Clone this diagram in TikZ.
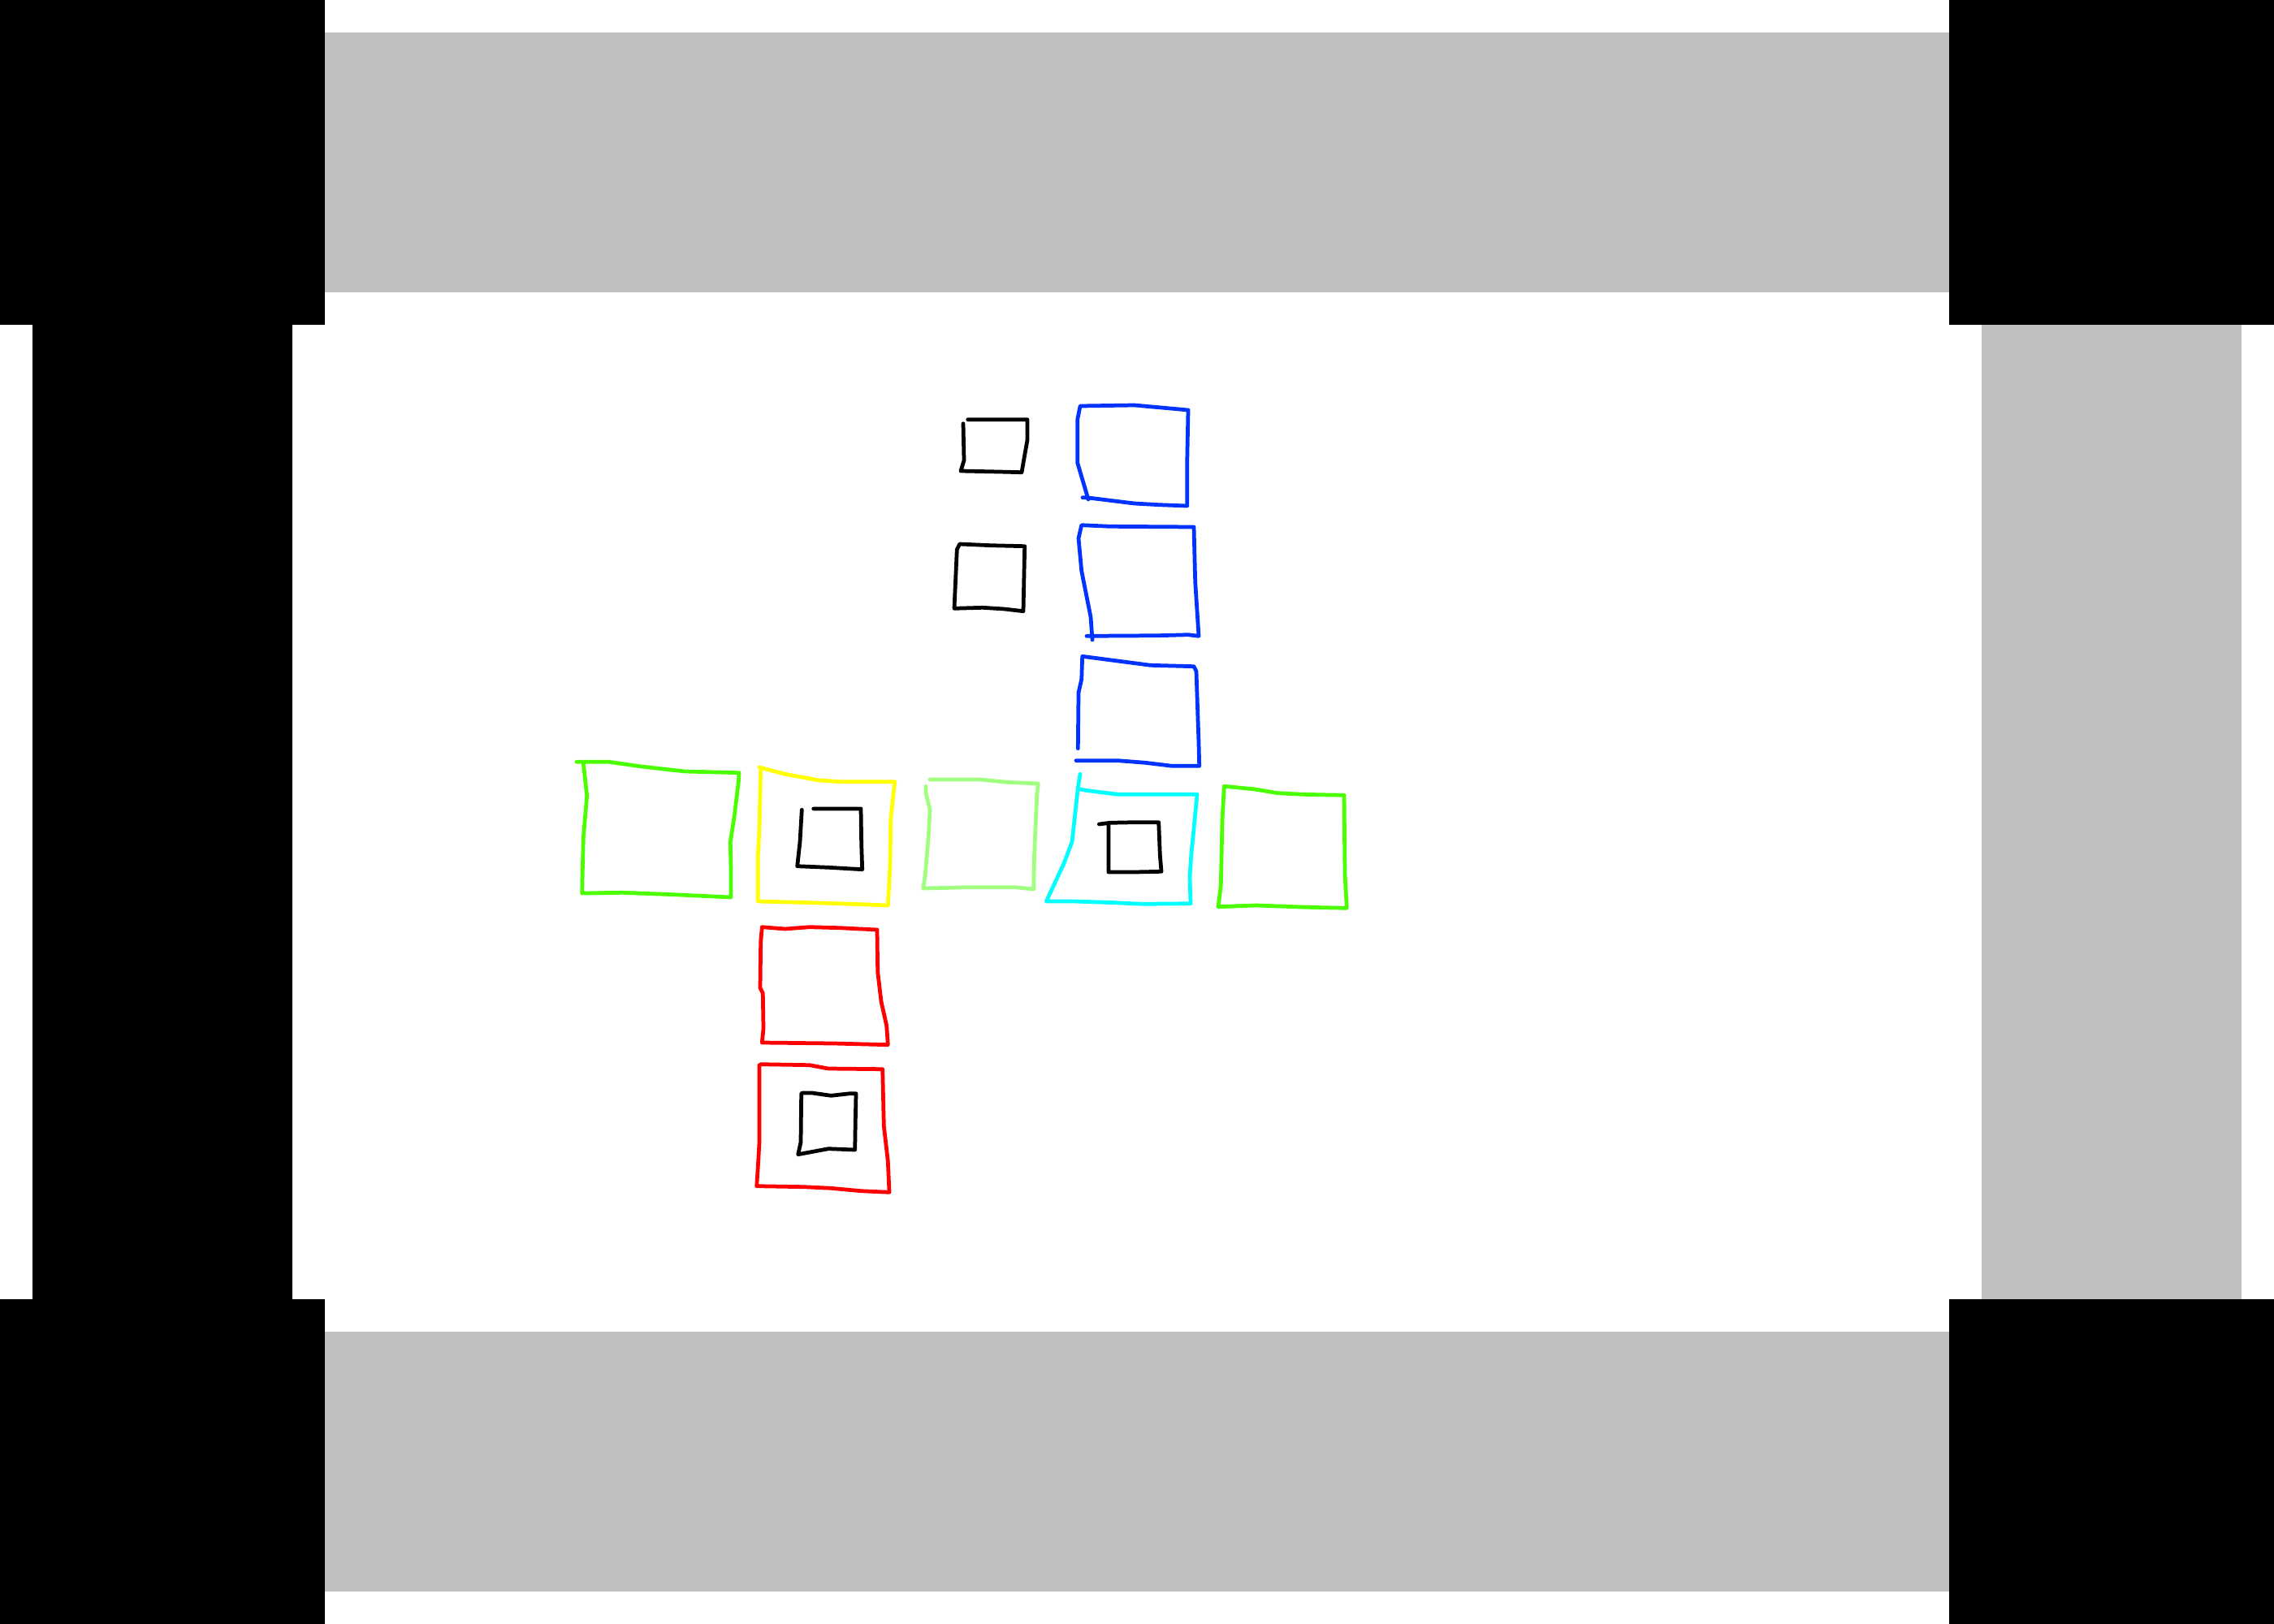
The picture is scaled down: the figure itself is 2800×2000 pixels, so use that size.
\documentclass[tikz,border=0pt]{standalone}
\begin{document}
\begin{tikzpicture}[x=0.01cm,y=-0.01cm,
  blk/.style={fill=black},
  gry/.style={fill=graybar},
  pen/.style={line width=1.35pt,line cap=round,line join=round},
  pblue/.style={pen,draw=penblue},
  pgreen/.style={pen,draw=pengreen},
  plgreen/.style={pen,draw=penlgreen},
  pyellow/.style={pen,draw=penyellow},
  pcyan/.style={pen,draw=pencyan},
  pred/.style={pen,draw=penred},
  pblack/.style={pen,draw=black}]
\definecolor{graybar}{RGB}{192,192,192}
\definecolor{penblue}{RGB}{0,51,255}
\definecolor{pengreen}{RGB}{76,255,0}
\definecolor{penlgreen}{RGB}{160,255,128}
\definecolor{penyellow}{RGB}{255,255,0}
\definecolor{pencyan}{RGB}{0,255,255}
\definecolor{penred}{RGB}{255,0,0}
\useasboundingbox (0,0) rectangle (2800,2000);
\fill[white] (0,0) rectangle (2800,2000);
% frame
\fill[blk] (0,0) rectangle (400,400);
\fill[blk] (2400,0) rectangle (2800,400);
\fill[blk] (0,1600) rectangle (400,2000);
\fill[blk] (2400,1600) rectangle (2800,2000);
\fill[gry] (400,40) rectangle (2400,360);
\fill[gry] (400,1640) rectangle (2400,1960);
\fill[blk] (40,400) rectangle (360,1600);
\fill[gry] (2440,400) rectangle (2760,1600);
% black squares top
\draw[pblack] (1191.7,516.7) -- (1265,516.7) -- (1265,541.7) -- (1258,581.7) -- (1230,581) -- (1183,580) -- (1187,567) -- (1186,521.7);
\draw[pblack] (1181.7,670) -- (1220,671.7) -- (1261.7,672.7) -- (1260,752.7) -- (1236.7,750) -- (1210,748.3) -- (1175,749.3) -- (1178.3,676.7) -- cycle;
% blue squares
\draw[pblue] (1333,612.7) -- (1340,613) -- (1396.7,620) -- (1426.7,621.7) -- (1461.7,623) -- (1461.7,570) -- (1463,505) -- (1426.7,501.7) -- (1396.7,499) -- (1330,500) -- (1326.7,516.7) -- (1326.7,570) -- (1340,615);
\draw[pblue] (1338,783.3) -- (1426.7,782.7) -- (1463,781.7) -- (1476,783.3) -- (1471.7,716.7) -- (1470,649) -- (1366.7,648.3) -- (1331.7,646.7) -- (1328,663) -- (1331.7,703) -- (1343,760) -- (1345,788);
\draw[pblue] (1325,936.7) -- (1376.7,936.7) -- (1410,939.3) -- (1443.3,943.3) -- (1476.7,943.3) -- (1476,915) -- (1473,826.7) -- (1470,820.7) -- (1416.7,819.3) -- (1332.7,808.3) -- (1331.7,836.7) -- (1328,853) -- (1327.3,921.7);
% left green
\draw[pgreen] (710,938.3) -- (750,938.3) -- (790,944) -- (843.3,950) -- (910,951.7) -- (909.3,963.3) -- (904,1006.7) -- (899.3,1036.7) -- (900,1073.3) -- (900,1105) -- (863.3,1103.3) -- (830,1101.7) -- (766.7,1099.3) -- (716.7,1100) -- (717.3,1073.3) -- (718.3,1031.7) -- (722.7,980) -- (718.3,940);
% yellow
\draw[pyellow] (935,945) -- (966.7,953.3) -- (1006.7,960.7) -- (1033.3,962.7) -- (1101.7,962.7) -- (1096.7,1010) -- (1096,1066.7) -- (1093.3,1115) -- (1050,1113.3) -- (1000,1111.7) -- (933.3,1110) -- (933.3,1053.3) -- (935,1020) -- (936.7,946.7);
\draw[pblack] (987.3,997.3) -- (985,1036.7) -- (981.7,1066.7) -- (1020,1068.3) -- (1061.7,1070.7) -- (1060.7,1040) -- (1060,996) -- (1001.7,996);
% light green
\draw[plgreen] (1145,960) -- (1206.7,960) -- (1240,963.3) -- (1278.3,965) -- (1276.7,980) -- (1273.3,1060) -- (1272.7,1095) -- (1250,1092.7) -- (1190,1092.7) -- (1170,1093.3) -- (1136.7,1094) -- (1139.3,1076.7) -- (1143.3,1030) -- (1145,996.7) -- (1140,976.7) -- (1140,968.3);
% cyan
\draw[pcyan] (1330,953.3) -- (1327.3,970) -- (1323.3,1006.7) -- (1320,1036.7) -- (1310,1063.3) -- (1288.3,1110) -- (1323.3,1110) -- (1373.3,1111.7) -- (1406.7,1113.3) -- (1466,1112.7) -- (1465,1080) -- (1466.7,1053.3) -- (1470,1020) -- (1474,978.3) -- (1376.7,978.3) -- (1336.7,973.3) -- (1328.3,971.7);
\draw[pblack] (1353.3,1015) -- (1366.7,1013.3) -- (1396.7,1012.7) -- (1426.7,1012.7) -- (1428.3,1053.3) -- (1430,1073.3) -- (1396.7,1074) -- (1365,1074) -- (1365,1016.7);
% right green
\draw[pgreen] (1507.3,968.3) -- (1543.3,971.7) -- (1573.3,976.7) -- (1603.3,978.3) -- (1655,979.3) -- (1656,1076.7) -- (1658.3,1118.3) -- (1610,1117.3) -- (1546.7,1115) -- (1500,1116.7) -- (1503.3,1090) -- (1505,1010) -- cycle;
% red squares
\draw[pred] (938.3,1141.7) -- (966.7,1144) -- (996.7,1141.7) -- (1033.3,1142.7) -- (1080,1145) -- (1080.7,1196.7) -- (1085,1233.3) -- (1091.7,1263.3) -- (1093.3,1286.7) -- (1026.7,1285) -- (938.3,1284) -- (940,1266.7) -- (939.3,1223.3) -- (936,1216.7) -- (936.7,1160) -- cycle;
\draw[pred] (936.7,1310.7) -- (996.7,1311.7) -- (1020,1316) -- (1086.7,1316.7) -- (1088.3,1386.7) -- (1093.3,1430) -- (1095,1468.3) -- (1060,1466.7) -- (1023.3,1463.3) -- (990,1461.7) -- (931.7,1460.7) -- (933.3,1436.7) -- (935,1406.7) -- (935,1311.7);
\draw[pblack] (988.3,1346) -- (1000,1346) -- (1023.3,1349.3) -- (1046.7,1346.7) -- (1054,1346.7) -- (1053.3,1380) -- (1052.7,1416) -- (1020,1414.7) -- (982.7,1421.7) -- (986,1406.7) -- (986.7,1346.7) -- cycle;
\end{tikzpicture}
\end{document}
